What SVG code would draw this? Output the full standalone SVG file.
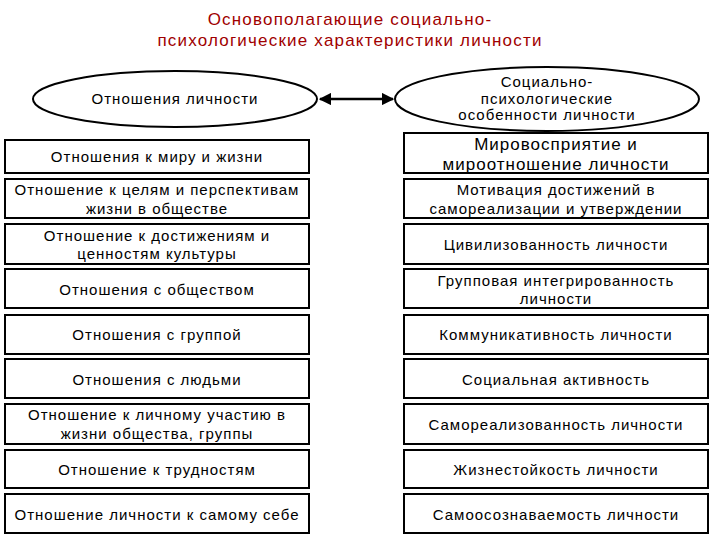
<svg xmlns="http://www.w3.org/2000/svg" width="720" height="540" viewBox="0 0 720 540">
<defs>
<style>
.t{font-family:"Liberation Sans",Arial,sans-serif;font-size:15px;letter-spacing:1px;fill:#000;text-anchor:middle}
.big{font-size:17px}
.b{fill:#fff;stroke:#000;stroke-width:2}
.title{font-family:"Liberation Sans",Arial,sans-serif;font-size:17px;letter-spacing:1.2px;fill:#A00000;text-anchor:middle}
</style>
<marker id="ah" viewBox="0 0 10 10" refX="9" refY="5" markerWidth="5" markerHeight="5" orient="auto-start-reverse"><path d="M0,0 L10,5 L0,10 Z" fill="#000"/></marker>
</defs>
<rect width="720" height="540" fill="#fff"/>
<g id="title">
<text class="title" x="350" y="25">Основополагающие социально-</text>
<text class="title" x="350" y="46">психологические характеристики личности</text>
</g>
<g id="connectors">
<line x1="320" y1="99" x2="393" y2="99" stroke="#000" stroke-width="2.5" marker-start="url(#ah)" marker-end="url(#ah)"/>
</g>
<g id="ell-left"><ellipse class="b" cx="175" cy="99" rx="142" ry="28"/><text class="t" x="175" y="104">Отношения личности</text></g>
<g id="ell-right"><ellipse class="b" cx="547" cy="99" rx="152" ry="32"/>
<text class="t" x="547" y="87">Социально-</text><text class="t" x="547" y="104">психологические</text><text class="t" x="547" y="120">особенности личности</text></g>

<g id="l1"><rect class="b" x="5" y="140" width="304" height="33"/><text class="t" x="157" y="162">Отношения к миру и жизни</text></g>
<g id="l2"><rect class="b" x="5" y="179" width="304" height="39"/><text class="t" x="157" y="195">Отношение к целям и перспективам</text><text class="t" x="157" y="214">жизни в обществе</text></g>
<g id="l3"><rect class="b" x="5" y="224" width="304" height="40"/><text class="t" x="157" y="241">Отношение к достижениям и</text><text class="t" x="157" y="259">ценностям культуры</text></g>
<g id="l4"><rect class="b" x="5" y="269" width="304" height="39"/><text class="t" x="157" y="295">Отношения с обществом</text></g>
<g id="l5"><rect class="b" x="5" y="315" width="304" height="39"/><text class="t" x="157" y="340">Отношения с группой</text></g>
<g id="l6"><rect class="b" x="5" y="359" width="304" height="39"/><text class="t" x="157" y="385">Отношения с людьми</text></g>
<g id="l7"><rect class="b" x="5" y="404" width="304" height="40"/><text class="t" x="157" y="420">Отношение к личному участию в</text><text class="t" x="157" y="439">жизни общества, группы</text></g>
<g id="l8"><rect class="b" x="5" y="450" width="304" height="38"/><text class="t" x="157" y="475">Отношение к трудностям</text></g>
<g id="l9"><rect class="b" x="5" y="494" width="304" height="39"/><text class="t" x="157" y="520">Отношение личности к самому себе</text></g>

<g id="r1"><rect class="b" x="404" y="133" width="304" height="40"/><text class="t big" x="556" y="150">Мировосприятие и</text><text class="t big" x="556" y="170">мироотношение личности</text></g>
<g id="r2"><rect class="b" x="404" y="179" width="304" height="39"/><text class="t" x="556" y="195">Мотивация достижений в</text><text class="t" x="556" y="214">самореализации и утверждении</text></g>
<g id="r3"><rect class="b" x="404" y="224" width="304" height="40"/><text class="t" x="556" y="250">Цивилизованность личности</text></g>
<g id="r4"><rect class="b" x="404" y="269" width="304" height="39"/><text class="t" x="556" y="286">Групповая интегрированность</text><text class="t" x="556" y="304">личности</text></g>
<g id="r5"><rect class="b" x="404" y="315" width="304" height="39"/><text class="t" x="556" y="340">Коммуникативность личности</text></g>
<g id="r6"><rect class="b" x="404" y="359" width="304" height="39"/><text class="t" x="556" y="385">Социальная активность</text></g>
<g id="r7"><rect class="b" x="404" y="404" width="304" height="40"/><text class="t" x="556" y="430">Самореализованность личности</text></g>
<g id="r8"><rect class="b" x="404" y="450" width="304" height="38"/><text class="t" x="556" y="475">Жизнестойкость личности</text></g>
<g id="r9"><rect class="b" x="404" y="494" width="304" height="39"/><text class="t" x="556" y="520">Самоосознаваемость личности</text></g>
</svg>
